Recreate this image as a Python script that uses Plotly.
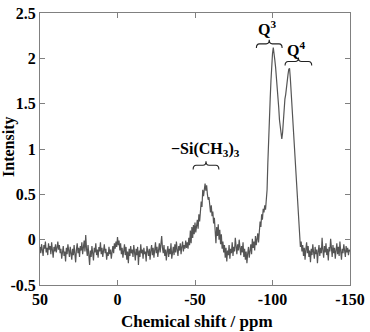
import numpy as np
import plotly.graph_objects as go

# Chemical-shift grid (ppm), 0.5 ppm spacing from 50 to -150
ppm = np.linspace(50, -150, 401)

# Intensity values, 20 points (10 ppm) per row
intensity = [
    -0.08,-0.15,-0.05,-0.12,-0.18,-0.06,-0.10,-0.02,-0.14,-0.09,-0.17,-0.04,-0.11,-0.07,-0.16,-0.03,-0.12,-0.20,-0.08,-0.13,
    -0.05,-0.14,-0.09,-0.02,-0.11,-0.06,-0.15,-0.10,-0.21,-0.12,-0.07,-0.18,-0.13,-0.24,-0.09,-0.16,-0.05,-0.12,-0.19,-0.08,
    -0.14,-0.22,-0.10,-0.17,-0.06,-0.13,-0.25,-0.11,-0.04,-0.15,-0.09,-0.19,-0.07,-0.12,-0.03,-0.16,-0.08,-0.01,-0.13,0.05,
    -0.10,-0.18,-0.06,-0.21,-0.28,-0.12,-0.19,-0.07,-0.15,-0.23,-0.09,-0.14,-0.04,-0.17,-0.11,-0.20,-0.08,-0.13,-0.03,-0.16,
    -0.09,-0.19,-0.12,-0.05,-0.15,-0.10,-0.22,-0.14,-0.18,-0.08,-0.16,-0.11,-0.21,-0.13,-0.07,-0.15,-0.04,-0.10,-0.02,-0.08,
    0.03,-0.06,-0.01,-0.12,-0.04,-0.16,-0.09,-0.20,-0.11,-0.05,-0.17,-0.08,-0.22,-0.13,-0.26,-0.10,-0.18,-0.07,-0.15,-0.11,
    -0.19,-0.06,-0.14,-0.23,-0.10,-0.17,-0.08,-0.28,-0.12,-0.19,-0.05,-0.15,-0.11,-0.21,-0.09,-0.16,-0.13,-0.24,-0.07,-0.14,
    -0.18,-0.10,-0.22,-0.12,-0.06,-0.17,-0.09,-0.20,-0.13,-0.03,-0.15,-0.08,-0.19,-0.11,-0.04,-0.14,-0.07,0.04,-0.09,-0.15,
    -0.06,-0.18,-0.11,-0.23,-0.13,-0.07,-0.19,-0.10,-0.16,-0.04,-0.21,-0.12,-0.08,-0.17,-0.05,-0.14,-0.02,-0.11,-0.18,-0.07,
    -0.12,-0.04,-0.16,-0.08,-0.02,-0.13,-0.06,-0.10,-0.01,-0.09,-0.03,-0.10,0.02,-0.06,0.10,-0.04,0.14,0.02,0.16,0.06,
    0.19,0.08,0.14,0.22,0.12,0.28,0.20,0.33,0.42,0.36,0.55,0.48,0.58,0.62,0.54,0.60,0.50,0.44,0.47,0.36,
    0.30,0.38,0.26,0.31,0.18,0.24,0.10,-0.04,0.14,0.04,0.17,0.00,0.11,-0.05,0.06,-0.10,-0.02,-0.14,-0.06,-0.20,
    -0.09,-0.24,-0.12,-0.17,-0.06,-0.21,-0.10,-0.15,-0.03,-0.18,-0.08,-0.13,0.02,-0.11,-0.16,-0.05,-0.12,0.00,-0.09,-0.17,
    -0.07,-0.14,-0.03,-0.19,-0.10,-0.22,-0.13,-0.26,-0.15,-0.08,-0.20,-0.11,-0.05,-0.16,0.01,-0.09,-0.02,-0.12,0.04,-0.06,
    -0.01,0.07,-0.03,0.12,0.20,0.14,0.28,0.22,0.34,0.30,0.38,0.33,0.44,0.55,0.85,1.15,1.45,1.55,1.75,1.95,
    2.05,2.12,2.07,1.98,1.90,1.80,1.72,1.58,1.46,1.32,1.22,1.15,1.11,1.18,1.32,1.42,1.55,1.60,1.70,1.78,
    1.82,1.88,1.89,1.78,1.64,1.50,1.34,1.18,1.00,0.86,0.74,0.62,0.40,0.24,0.12,0.02,-0.08,-0.02,-0.13,-0.06,
    -0.18,-0.09,-0.22,-0.11,-0.03,-0.15,-0.07,-0.19,-0.12,-0.25,-0.10,-0.17,-0.05,-0.14,-0.21,-0.08,-0.16,-0.11,-0.26,-0.13,
    -0.06,-0.18,-0.09,-0.15,0.02,-0.12,-0.20,-0.07,-0.14,-0.04,-0.17,-0.10,-0.23,-0.08,-0.13,0.01,-0.11,-0.19,-0.06,-0.15,
    -0.09,-0.21,-0.12,-0.04,-0.16,-0.08,-0.18,-0.02,-0.13,-0.22,-0.10,-0.15,-0.05,-0.12,-0.19,-0.07,-0.14,-0.09,-0.17,-0.11,
    -0.13,
]

x_tickvals = [50, 0, -50, -100, -150]
x_ticktext = ["50", "0", "-50", "-100", "-150"]
y_tickvals = [-0.5, 0, 0.5, 1, 1.5, 2, 2.5]
y_ticktext = ["-0.5", "0", "0.5", "1", "1.5", "2", "2.5"]

# Peak assignment labels: text, label x/y, brace start/end x, brace y
peak_labels = ["\u2212Si(CH<sub>3</sub>)<sub>3</sub>", "Q<sup>3</sup>", "Q<sup>4</sup>"]
label_x = [-56.5, -96.5, -115.0]
label_y = [1.00, 2.34, 2.10]
brace_x0 = [-48.8, -89.6, -108.1]
brace_x1 = [-65.4, -106.2, -125.3]
brace_y = [0.82, 2.16, 1.965]

FONT = "Liberation Serif, Times New Roman, serif"
LINE = "#555555"
AXIS = "#808080"

fig = go.Figure()
fig.add_trace(go.Scatter(x=ppm, y=intensity, mode="lines",
                         line=dict(color=LINE, width=1.2), showlegend=False,
                         hoverinfo="skip"))

shapes = []
h = 0.045
for x0, x1, yb in zip(brace_x0, brace_x1, brace_y):
    xm = (x0 + x1) / 2
    d = (x1 - x0) * 0.12
    path = (f"M {x0},{yb - h} Q {x0},{yb} {x0 + d},{yb} "
            f"L {xm - d},{yb} Q {xm},{yb} {xm},{yb + h} "
            f"Q {xm},{yb} {xm + d},{yb} "
            f"L {x1 - d},{yb} Q {x1},{yb} {x1},{yb - h}")
    shapes.append(dict(type="path", path=path, xref="x", yref="y",
                       line=dict(color="#222222", width=1.1)))

annotations = []
for t, lx, ly in zip(peak_labels, label_x, label_y):
    annotations.append(dict(text=t, x=lx, y=ly, xref="x", yref="y",
                            xanchor="center", yanchor="middle", showarrow=False,
                            font=dict(family=FONT, size=16, color="black", weight="bold")))
annotations.append(dict(text="Intensity", x=-0.102, y=0.509, xref="paper", yref="paper",
                        xanchor="center", yanchor="middle",
                        textangle=-90, showarrow=False,
                        font=dict(family=FONT, size=16, color="black", weight="bold")))
annotations.append(dict(text="Chemical shift / ppm", x=0.507, y=-0.136, xref="paper", yref="paper",
                        showarrow=False, xanchor="center", yanchor="middle",
                        font=dict(family=FONT, size=17, color="black", weight="bold")))

fig.update_layout(
    width=370, height=332,
    margin=dict(l=40, r=16, t=5, b=47),
    paper_bgcolor="white", plot_bgcolor="white",
    shapes=shapes, annotations=annotations,
    xaxis=dict(range=[50, -150], tickvals=x_tickvals, ticktext=x_ticktext,
               ticks="inside", ticklen=5, tickcolor=AXIS, showline=True, linecolor=AXIS,
               linewidth=1, mirror="ticks", showgrid=False, zeroline=False,
               ticklabeloverflow="allow",
               tickfont=dict(family=FONT, size=16, color="black", weight="bold")),
    yaxis=dict(range=[-0.5, 2.5], tickvals=y_tickvals, ticktext=y_ticktext,
               ticks="inside", ticklen=5, tickcolor=AXIS, showline=True, linecolor=AXIS,
               linewidth=1, mirror="ticks", showgrid=False, zeroline=False,
               ticklabeloverflow="allow",
               tickfont=dict(family=FONT, size=16, color="black", weight="bold")),
)

fig.write_html("out.html")
